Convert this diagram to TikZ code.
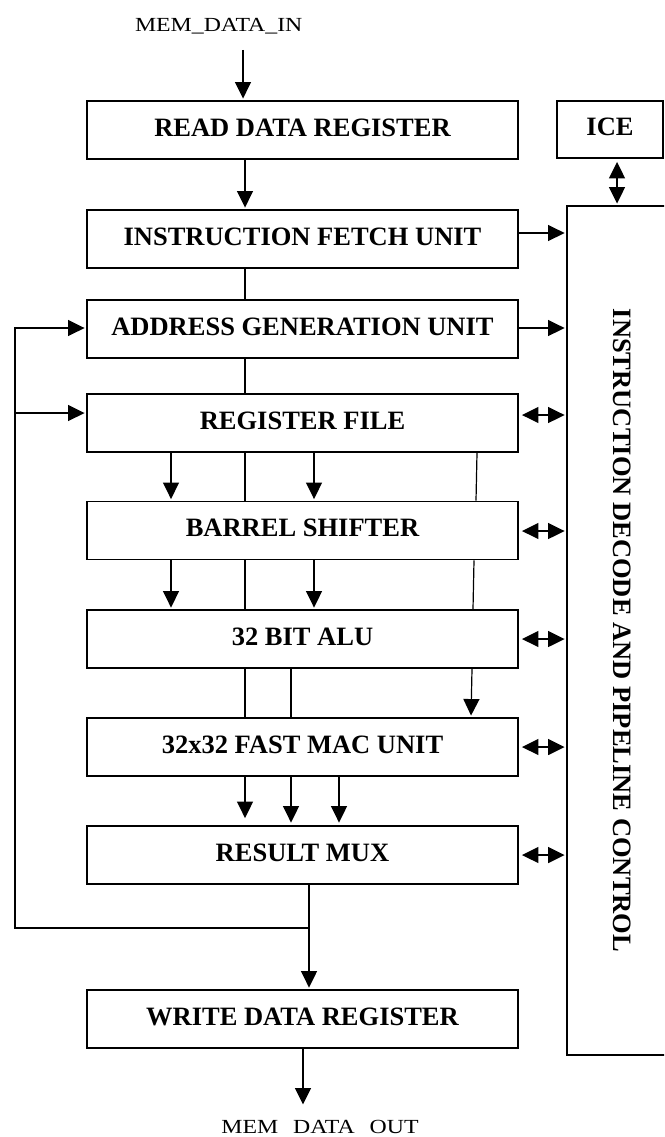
\documentclass[tikz,border=0pt]{standalone}
\usepackage{fontspec}
\setmainfont{Liberation Serif}
\usetikzlibrary{arrows.meta}
\begin{document}
\begin{tikzpicture}[x=1pt,y=-1pt,
  blk/.style={draw, line width=1.9pt, minimum height=58pt, inner sep=0pt,
    text depth=5pt, font=\bfseries\fontsize{26.5}{30}\selectfont},
  wide/.style={blk, minimum width=431pt},
  conn/.style={line width=1.6pt},
  arr/.style={conn, -{Triangle[length=16.5pt,width=16pt]}, shorten >=1.5pt},
  darr/.style={conn, {Triangle[length=16.5pt,width=16pt]}-{Triangle[length=16.5pt,width=16pt]},
    shorten >=1.5pt, shorten <=3pt},
  thinconn/.style={line width=1.2pt},
  sig/.style={font=\fontsize{20}{24}\selectfont, anchor=base, inner sep=0pt}]
\useasboundingbox (0,0) rectangle (664,1137);
\clip (0,0) rectangle (664,1137);

% datapath blocks
\node[wide] (rdr) at (302.5,130)  {READ DATA REGISTER};
\node[wide] (ifu) at (302.5,239)  {INSTRUCTION FETCH UNIT};
\node[wide] (agu) at (302.5,329)  {ADDRESS GENERATION UNIT};
\node[wide] (rf)  at (302.5,423)  {REGISTER FILE};
\node[wide] (bs)  at (302.5,530.5){BARREL SHIFTER};
\node[wide] (alu) at (302.5,639)  {32 BIT ALU};
\node[wide] (mac) at (302.5,747)  {32x32 FAST MAC UNIT};
\node[wide] (mux) at (302.5,855)  {RESULT MUX};
\node[wide] (wdr) at (302.5,1019) {WRITE DATA REGISTER};

% control side
\node[blk, minimum width=106pt, minimum height=57pt] (ice) at (610,129.5) {ICE};
\node[draw, line width=1.9pt, minimum width=110pt, minimum height=849pt] (idpc) at (622,630.5) {};
\node[rotate=-90, inner sep=0pt, font=\bfseries\fontsize{26.5}{30}\selectfont]
  (idpclbl) at (idpc.center) {INSTRUCTION DECODE AND PIPELINE CONTROL};

% external signals
\node[sig] (memin) at (218.7,32) {\scalebox{1.19}[1]{MEM\_DATA\_IN}};
\node[sig] (memout) at (320,1133) {\scalebox{1.19}[1]{MEM\hspace{0.63em}DATA\hspace{0.63em}OUT}};

% column and row references
\coordinate (xin) at (243,50);
\coordinate (cA) at (171,0);
\coordinate (cB) at (245,0);
\coordinate (cC) at (314,0);
\coordinate (cE) at (291,0);
\coordinate (cF) at (339,0);
\coordinate (cM) at (309,0);
\coordinate (cW) at (303,0);
\coordinate (cL) at (15,0);
\coordinate (xice) at (617,0);
\coordinate (d1) at (477,0);
\coordinate (d2) at (476,0);
\coordinate (d3) at (474,0);
\coordinate (d4) at (473,0);
\coordinate (d5) at (472,0);
\coordinate (d6) at (471,0);
\coordinate (yifu) at (0,233);
\coordinate (yagu) at (0,328);
\coordinate (yrfl) at (0,413);
\coordinate (yrf) at (0,415);
\coordinate (ybs) at (0,531);
\coordinate (yalu) at (0,639);
\coordinate (ymac) at (0,747);
\coordinate (ymux) at (0,855);
\coordinate (yfb) at (0,928);
\coordinate (yout) at (0,1106);

% main flow
\draw[arr] (xin) -- (xin |- rdr.north);
\draw[arr] (rdr.south -| cB) -- (ifu.north -| cB);
\draw[conn] (ifu.south -| cB) -- (agu.north -| cB);
\draw[conn] (agu.south -| cB) -- (rf.north -| cB);

\draw[arr] (rf.south -| cA) -- (bs.north -| cA);
\draw[conn] (rf.south -| cB) -- (bs.north -| cB);
\draw[arr] (rf.south -| cC) -- (bs.north -| cC);
\draw[thinconn] (rf.south -| d1) -- (bs.north -| d2);

\draw[arr] (bs.south -| cA) -- (alu.north -| cA);
\draw[conn] (bs.south -| cB) -- (alu.north -| cB);
\draw[arr] (bs.south -| cC) -- (alu.north -| cC);
\draw[thinconn] (bs.south -| d3) -- (alu.north -| d4);

\draw[conn] (alu.south -| cB) -- (mac.north -| cB);
\draw[conn] (alu.south -| cE) -- (mac.north -| cE);
\draw[thinconn, -{Triangle[length=16.5pt,width=16pt]}, shorten >=1.5pt] (alu.south -| d5) -- (mac.north -| d6);

\draw[arr, shorten >=7pt] (mac.south -| cB) -- (mux.north -| cB);
\draw[arr, shorten >=2.5pt] (mac.south -| cE) -- (mux.north -| cE);
\draw[arr, shorten >=2.5pt] (mac.south -| cF) -- (mux.north -| cF);

\draw[arr] (mux.south -| cM) -- (wdr.north -| cM);
\draw[arr] (wdr.south -| cW) -- (cW |- yout);

% result feedback
\draw[arr] (cM |- yfb) -| (cL |- yagu) -- (agu.west |- yagu);
\draw[arr] (cL |- yrfl) -- (rf.west |- yrfl);

% links to the control unit
\draw[darr] (ice.south -| xice) -- (idpc.north -| xice);
\draw[arr] (ifu.east |- yifu) -- (idpc.west |- yifu);
\draw[arr] (agu.east |- yagu) -- (idpc.west |- yagu);
\draw[darr] (rf.east |- yrf) -- (idpc.west |- yrf);
\draw[darr] (bs.east |- ybs) -- (idpc.west |- ybs);
\draw[darr] (alu.east |- yalu) -- (idpc.west |- yalu);
\draw[darr] (mac.east |- ymac) -- (idpc.west |- ymac);
\draw[darr] (mux.east |- ymux) -- (idpc.west |- ymux);
\end{tikzpicture}
\end{document}
